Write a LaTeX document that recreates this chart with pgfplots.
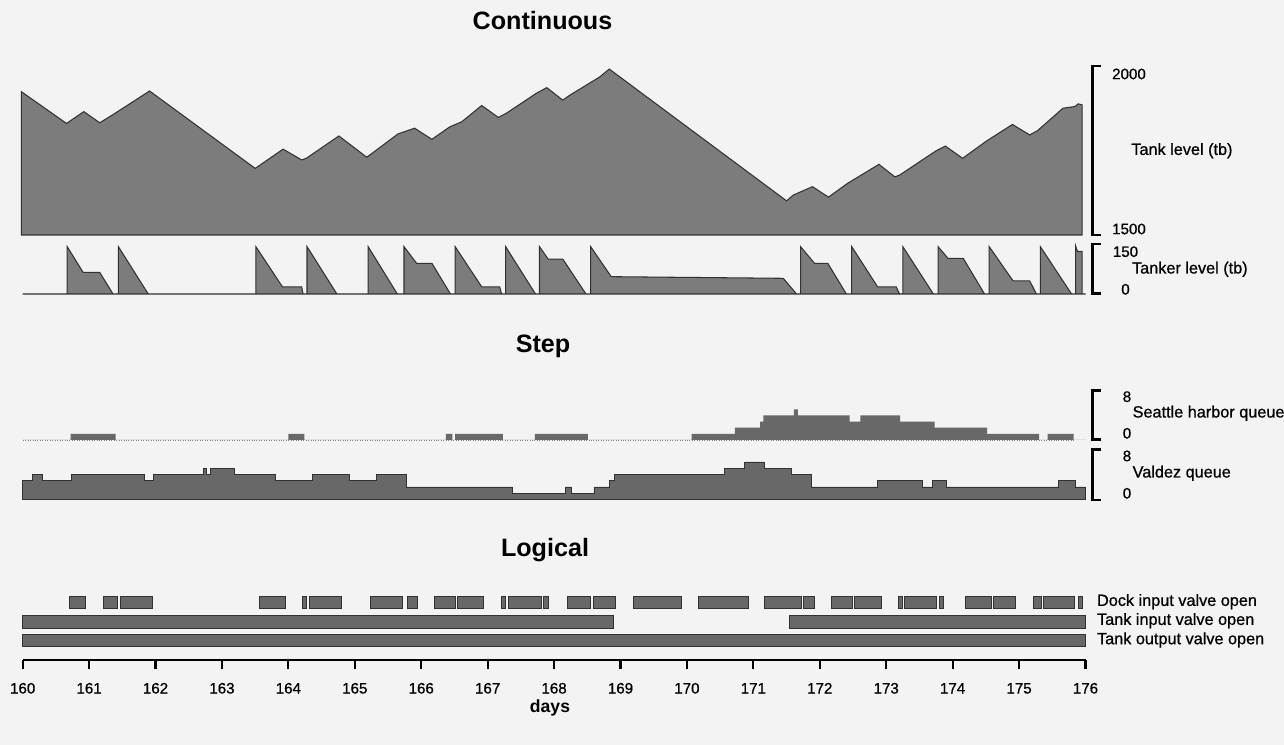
\documentclass[border=0pt]{standalone}
\usepackage{fontspec}
\setmainfont{Liberation Sans}
\newfontfamily\medfont{Liberation Sans}[FakeBold=0.7]
\usepackage{pgfplots}
\pgfplotsset{compat=1.18}
\definecolor{bg}{RGB}{243,243,243}
\definecolor{fillA}{RGB}{124,124,124}
\definecolor{fillB}{RGB}{104,104,104}
\definecolor{edge}{RGB}{50,50,50}
\pgfplotsset{
  panel/.style={scale only axis, width=212.56mm, xmin=160, xmax=176,
    axis lines=none, clip=false, anchor=south west, enlargelimits=false, ticks=none},
}
\newcommand\numfont{\medfont\fontsize{8.6}{10}\selectfont}
\newcommand\labfont{\medfont\fontsize{9.25}{11}\selectfont}
\newcommand\titfont{\bfseries\fontsize{14.3}{17}\selectfont}
\newcommand\bx[4]{\addplot[fill=fillB, draw=edge, line width=0.5pt] coordinates {(#1,#3) (#1,#4) (#2,#4) (#2,#3)} -- cycle;}
\begin{document}
\begin{tikzpicture}
\fill[bg] (0,0) rectangle (256.8mm,149mm);
\useasboundingbox (0,0) rectangle (256.8mm,149mm);

% ---------- Tank level ----------
\begin{axis}[panel, at={(4.54mm,102mm)}, height=33.8mm, ymin=1500, ymax=2000]
\addplot[fill=fillA, draw=edge, line width=0.6pt] coordinates {
(159.98,1500) (159.98,1924) (160.66,1830) (160.92,1865) (161.16,1832) (161.39,1860)
(161.91,1926) (163.50,1697) (163.92,1754) (164.20,1722) (164.27,1727) (164.76,1793)
(165.18,1730) (165.65,1799) (165.90,1816) (166.16,1783) (166.43,1820) (166.61,1835)
(166.91,1883) (167.16,1848) (167.28,1860) (167.73,1919) (167.89,1936) (168.13,1899)
(168.24,1914) (168.49,1944) (168.69,1968) (168.83,1991) (171.50,1601) (171.60,1618)
(171.89,1643) (172.13,1612) (172.42,1653) (172.89,1709) (173.13,1672) (173.20,1677)
(173.75,1749) (173.89,1763) (174.15,1727) (174.51,1778) (174.90,1827) (175.16,1796)
(175.28,1809) (175.66,1875) (175.84,1880) (175.89,1888) (175.95,1885) (175.95,1500)
} -- cycle;
\end{axis}

% ---------- Tanker level ----------
\begin{axis}[panel, at={(4.54mm,90.2mm)}, height=9.8mm, ymin=0, ymax=150]
\addplot[fill=fillA, draw=edge, line width=0.6pt] coordinates {
(160,0)
(160.67,0) (160.67,145) (160.91,66) (161.16,66) (161.36,0)
(161.44,0) (161.44,145) (161.89,0)
(163.51,0) (163.51,145) (163.91,22) (164.20,22) (164.22,0)
(164.28,0) (164.28,145) (164.73,0)
(165.20,0) (165.20,145) (165.64,0)
(165.74,0) (165.74,145) (165.93,94) (166.16,94) (166.44,0)
(166.51,0) (166.51,145) (166.91,22) (167.18,22) (167.21,0)
(167.27,0) (167.27,145) (167.72,0)
(167.78,0) (167.78,145) (167.91,107) (168.13,107) (168.48,0)
(168.55,0) (168.55,145) (168.86,53) (171.45,48) (171.65,0)
(171.71,0) (171.71,145) (171.92,94) (172.12,94) (172.40,0)
(172.48,0) (172.48,145) (172.87,22) (173.15,22) (173.20,0)
(173.25,0) (173.25,145) (173.71,0)
(173.78,0) (173.78,145) (173.93,109) (174.16,109) (174.48,0)
(174.55,0) (174.55,145) (174.91,40) (175.16,40) (175.26,0)
(175.32,0) (175.32,145) (175.79,0)
(175.85,0) (175.85,148) (175.88,130) (175.95,130) (175.95,0)
(176,0)
} -- cycle;
\end{axis}

% ---------- Seattle harbor queue ----------
\begin{axis}[panel, at={(4.54mm,61mm)}, height=9.8mm, ymin=0, ymax=8]
\addplot[densely dotted, gray, line width=0.4pt] coordinates {(160,0) (175.82,0)};
\addplot[const plot, fill=fillB, draw=none] coordinates {
(160,0) (160.72,1) (161.40,0) (164.00,1) (164.24,0)
(166.37,1) (166.47,0) (166.51,1) (167.23,0) (167.71,1) (168.51,0)
(170.07,1) (170.72,2) (171.10,3) (171.15,4) (171.61,5) (171.67,4) (172.45,3)
(172.61,4) (173.21,3) (173.73,2) (174.52,1) (175.30,0) (175.43,1) (175.82,0) (176,0)
} \closedcycle;
\end{axis}

% ---------- Valdez queue ----------
\begin{axis}[panel, at={(4.54mm,49.1mm)}, height=10mm, ymin=0, ymax=8]
\addplot[const plot, fill=fillB, draw=edge, line width=0.5pt] coordinates {
(160,3) (160.15,4) (160.29,3) (160.73,4) (161.84,3) (161.97,4) (162.72,5) (162.76,4)
(162.82,5) (163.19,4) (163.80,3) (164.36,4) (164.92,3) (165.33,4) (165.77,2) (167.37,1)
(168.17,2) (168.26,1) (168.60,2) (168.84,3) (168.91,4) (170.57,5) (170.87,6) (171.16,5)
(171.57,4) (171.87,2) (172.87,3) (173.55,2) (173.69,3) (173.90,2) (175.59,3) (175.85,2)
(176,2)
} \closedcycle;
\end{axis}

% ---------- Logical ----------
\begin{axis}[scale only axis, width=212.56mm, height=14mm, xmin=160, xmax=176, ymin=0, ymax=70,
  at={(4.54mm,17mm)}, anchor=south west, clip=false, enlargelimits=false,
  axis x line*=bottom, axis y line=none, x axis line style={-, line width=1.4pt},
  xtick={160,161,...,176}, ytick=\empty, tick align=outside, major tick length=1.86mm,
  every tick/.append style={line width=1.2pt, black},
  xticklabel style={font=\numfont, anchor=north, text height=2.3mm, text depth=0pt, yshift=-1.3mm},
  /pgf/number format/assume math mode=true]
% Dock input valve open
\bx{160.71}{160.95}{51.7}{64}
\bx{161.21}{161.42}{51.7}{64}
\bx{161.47}{161.95}{51.7}{64}
\bx{163.56}{163.95}{51.7}{64}
\bx{164.21}{164.27}{51.7}{64}
\bx{164.32}{164.80}{51.7}{64}
\bx{165.24}{165.71}{51.7}{64}
\bx{165.79}{165.95}{51.7}{64}
\bx{166.20}{166.51}{51.7}{64}
\bx{166.55}{166.93}{51.7}{64}
\bx{167.20}{167.26}{51.7}{64}
\bx{167.31}{167.81}{51.7}{64}
\bx{167.84}{167.92}{51.7}{64}
\bx{168.20}{168.54}{51.7}{64}
\bx{168.59}{168.92}{51.7}{64}
\bx{169.19}{169.92}{51.7}{64}
\bx{170.18}{170.92}{51.7}{64}
\bx{171.17}{171.72}{51.7}{64}
\bx{171.76}{171.92}{51.7}{64}
\bx{172.17}{172.49}{51.7}{64}
\bx{172.52}{172.93}{51.7}{64}
\bx{173.19}{173.24}{51.7}{64}
\bx{173.28}{173.76}{51.7}{64}
\bx{173.80}{173.86}{51.7}{64}
\bx{174.19}{174.58}{51.7}{64}
\bx{174.62}{174.94}{51.7}{64}
\bx{175.21}{175.33}{51.7}{64}
\bx{175.36}{175.84}{51.7}{64}
\bx{175.89}{175.96}{51.7}{64}
% Tank input valve open
\bx{160}{168.90}{31.7}{45}
\bx{171.55}{176}{31.7}{45}
% Tank output valve open
\bx{160}{176}{13.3}{26}
\end{axis}

% ---------- brackets ----------
\draw[line width=1.5pt] (220.2mm,135.8mm) -- (218.5mm,135.8mm) -- (218.5mm,102mm) -- (220.2mm,102mm);
\draw[line width=1.5pt] (220.2mm,100.2mm) -- (218.5mm,100.2mm) -- (218.5mm,90.34mm) -- (220.2mm,90.34mm);
\draw[line width=1.5pt] (220.2mm,70.9mm) -- (218.5mm,70.9mm) -- (218.5mm,61.14mm) -- (220.2mm,61.14mm);
\draw[line width=1.5pt] (220.2mm,59.14mm) -- (218.5mm,59.14mm) -- (218.5mm,49mm) -- (220.2mm,49mm);

% ---------- right labels ----------
\node[font=\numfont, inner sep=0pt] at (225.8mm,134.2mm) {2000};
\node[font=\numfont, inner sep=0pt] at (225.8mm,103.2mm) {1500};
\node[font=\labfont, anchor=west, inner sep=0pt] at (226.2mm,118.86mm) {Tank level (tb)};
\node[font=\numfont, inner sep=0pt] at (225.1mm,98.66mm) {150};
\node[font=\numfont, inner sep=0pt] at (225.1mm,91.14mm) {0};
\node[font=\labfont, anchor=west, inner sep=0pt] at (226.34mm,95.14mm) {Tanker level (tb)};
\node[font=\numfont, inner sep=0pt] at (225.4mm,69.66mm) {8};
\node[font=\numfont, inner sep=0pt] at (225.4mm,62.34mm) {0};
\node[font=\labfont, anchor=west, inner sep=0pt] at (226.46mm,66.34mm) {Seattle harbor queue};
\node[font=\numfont, inner sep=0pt] at (225.4mm,57.8mm) {8};
\node[font=\numfont, inner sep=0pt] at (225.4mm,50.34mm) {0};
\node[font=\labfont, anchor=west, inner sep=0pt] at (226.46mm,54.34mm) {Valdez queue};
\node[font=\labfont, anchor=west, inner sep=0pt] at (219.34mm,28.66mm) {Dock input valve open};
\node[font=\labfont, anchor=west, inner sep=0pt] at (219.34mm,24.86mm) {Tank input valve open};
\node[font=\labfont, anchor=west, inner sep=0pt] at (219.34mm,21.0mm) {Tank output valve open};

% ---------- titles ----------
\node[font=\titfont, anchor=base, inner sep=0pt] at (108.5mm,143mm) {Continuous};
\node[font=\titfont, anchor=base, inner sep=0pt] at (108.6mm,78.54mm) {Step};
\node[font=\titfont, anchor=base, inner sep=0pt] at (109mm,37.6mm) {Logical};
\node[font=\bfseries\fontsize{10}{12}\selectfont, inner sep=0pt] at (110mm,7.4mm) {days};
\end{tikzpicture}
\end{document}
